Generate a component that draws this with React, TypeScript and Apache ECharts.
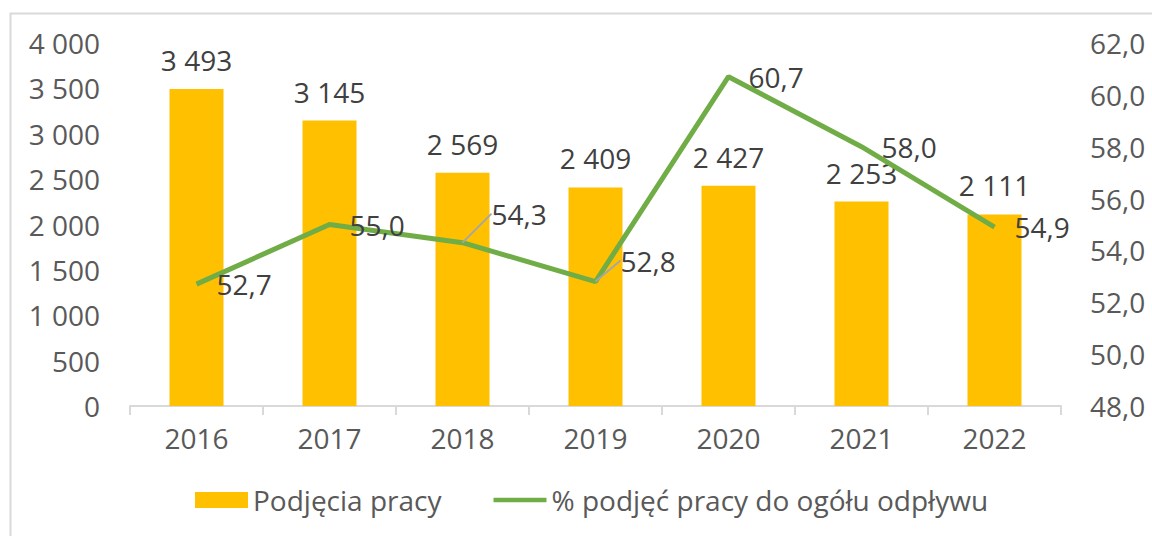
import React, { useEffect, useRef } from "react";
import * as echarts from "echarts";

const years = ["2016", "2017", "2018", "2019", "2020", "2021", "2022"];
const hires = [3493, 3145, 2569, 2409, 2427, 2253, 2111];
const share = [52.7, 55.0, 54.3, 52.8, 60.7, 58.0, 54.9];
const barName = "Podjęcia pracy";
const lineName = "% podjęć pracy do ogółu odpływu";

const fmtInt = (v: number) => String(Math.round(v)).replace(/\B(?=(\d{3})+(?!\d))/g, " ");
const fmtDec = (v: number) => v.toFixed(1).replace(".", ",");

const FONT = "Open Sans";
const FS = 28;
const GREEN = "#70AD47";

export default function App() {
  const ref = useRef<HTMLDivElement>(null);
  useEffect(() => {
    if (!ref.current) return;
    const chart = echarts.init(ref.current, null, { renderer: "svg" });
    const labelShift: Record<number, [number, number]> = { 2: [9, -29], 3: [5, -21] };
    const lineData = share.map((v, i) => ({
      value: v,
      labelLine: { show: !!labelShift[i] },
    }));
    chart.setOption({
      animation: false,
      backgroundColor: "#ffffff",
      textStyle: { fontFamily: FONT },
      graphic: [
        {
          type: "rect",
          shape: { x: 10.5, y: 13.5, width: 1200, height: 600 },
          style: { fill: "none", stroke: "#D9D9D9", lineWidth: 2 },
          silent: true,
        },
      ],
      grid: { left: 130, right: 91, top: 43, bottom: 130 },
      legend: {
        bottom: 17,
        left: 190,
        itemGap: 52,
        itemWidth: 53,
        itemHeight: 16,
        textStyle: { fontFamily: FONT, fontSize: FS, color: "#595959" },
        data: [
          { name: barName, icon: "rect", itemStyle: { color: "#FFC000" } },
          {
            name: lineName,
            icon: "path://M0,0 L120,0 L120,10 L0,10 Z",
            itemStyle: { color: GREEN, opacity: 1 },
          },
        ],
      },
      xAxis: {
        type: "category",
        data: years,
        axisLine: { lineStyle: { color: "#D9D9D9", width: 2 } },
        axisTick: { show: true, length: 9, lineStyle: { color: "#D9D9D9", width: 2 } },
        axisLabel: { fontFamily: FONT, fontSize: FS, color: "#595959", margin: 18 },
      },
      yAxis: [
        {
          type: "value",
          min: 0,
          max: 4000,
          interval: 500,
          splitLine: { show: false },
          axisLine: { show: false },
          axisTick: { show: false },
          axisLabel: { fontFamily: FONT, fontSize: FS, color: "#595959", margin: 30, formatter: fmtInt },
        },
        {
          type: "value",
          min: 48,
          max: 62,
          interval: 2,
          splitLine: { show: false },
          axisLine: { show: false },
          axisTick: { show: false },
          axisLabel: { fontFamily: FONT, fontSize: FS, color: "#595959", margin: 29, formatter: fmtDec },
        },
      ],
      series: [
        {
          name: barName,
          type: "bar",
          data: hires,
          barWidth: 54,
          itemStyle: { color: "#FFC000" },
          label: {
            show: true,
            position: "top",
            distance: 15,
            fontFamily: FONT,
            fontSize: FS,
            color: "#404040",
            formatter: (p: any) => fmtInt(p.value),
          },
        },
        {
          name: lineName,
          type: "line",
          yAxisIndex: 1,
          data: lineData,
          symbol: "circle",
          symbolSize: 0.01,
          showSymbol: true,
          lineStyle: { color: GREEN, width: 5 },
          itemStyle: { color: "transparent", borderWidth: 0 },
          z: 5,
          label: {
            show: true,
            position: "right",
            distance: 20,
            fontFamily: FONT,
            fontSize: FS,
            color: "#404040",
            formatter: (p: any) => fmtDec(p.value),
          },
          labelLine: { show: false, lineStyle: { color: "#A6A6A6", width: 2 } },
          labelLayout: (params: any) => {
            const s = labelShift[params.dataIndex];
            if (!s) return {};
            return { dx: s[0], dy: s[1] };
          },
        },
      ],
    });
    return () => chart.dispose();
  }, []);
  return (
    <div
      ref={ref}
      style={{ position: "absolute", left: 0, top: 0, width: 1152, height: 536 }}
    />
  );
}
